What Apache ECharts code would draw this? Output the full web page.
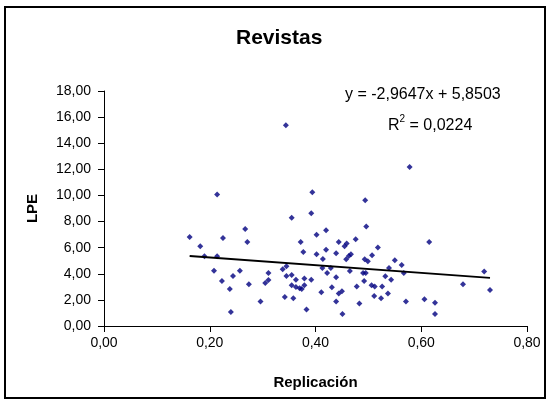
<!DOCTYPE html>
<html>
<head>
<meta charset="utf-8">
<script src="https://cdn.jsdelivr.net/npm/echarts@6/dist/echarts.min.js"></script>
<style>
  html, body { margin: 0; padding: 0; background: #fff; }
  #chart { width: 549px; height: 403px; }
</style>
</head>
<body>
<div id="chart"></div>
<script>
// valores (Replicación, LPE)
const replicacion = [
  0.214, 0.267, 0.162, 0.225, 0.271, 0.182, 0.190, 0.214, 0.208, 0.257, 0.244, 0.223, 0.274, 0.238, 0.296, 0.240,
  0.394, 0.392, 0.355, 0.420, 0.402, 0.372, 0.444, 0.420, 0.377, 0.402, 0.439, 0.414, 0.345, 0.338, 0.413, 0.429,
  0.311, 0.422, 0.345, 0.355, 0.439, 0.311, 0.363, 0.379, 0.392, 0.305, 0.355, 0.363, 0.370, 0.379, 0.374, 0.431,
  0.411, 0.444, 0.342, 0.358, 0.439, 0.383,
  0.494, 0.496, 0.476, 0.459, 0.455, 0.518, 0.467, 0.463, 0.458, 0.507, 0.493, 0.499, 0.550, 0.563, 0.539, 0.465,
  0.490, 0.495, 0.567, 0.532, 0.543, 0.492, 0.506, 0.512, 0.526, 0.478, 0.450, 0.537, 0.511, 0.524, 0.483, 0.571,
  0.451,
  0.615, 0.719, 0.679, 0.730, 0.606, 0.626, 0.626,
  0.344, 0.578
];
const lpe = [
  10.07, 7.43, 6.82, 6.74, 6.44, 6.11, 5.34, 5.34, 4.24, 4.24, 3.83, 3.45, 3.20, 2.84, 1.87, 1.07,
  10.25, 8.64, 8.30, 7.33, 6.98, 6.44, 6.44, 5.85, 5.67, 5.49, 5.57, 5.13, 4.57, 4.34, 4.44, 4.44,
  4.06, 4.06, 3.83, 3.91, 3.73, 3.52, 3.55, 3.63, 3.55, 3.30, 3.12, 2.99, 2.89, 3.12, 2.84, 2.97,
  2.58, 2.48, 2.22, 2.12, 1.87, 1.26,
  9.63, 7.62, 6.64, 6.31, 6.11, 6.01, 5.49, 5.36, 5.11, 5.42, 5.11, 4.96, 5.03, 4.67, 4.44, 4.21,
  4.06, 4.06, 4.06, 3.81, 3.55, 3.45, 3.12, 3.02, 3.02, 3.02, 2.66, 2.48, 2.30, 2.12, 1.72, 1.87,
  0.92,
  6.44, 4.17, 3.20, 2.76, 2.05, 1.79, 0.92,
  15.38, 12.18
];
// línea de tendencia lineal (coeficientes mostrados en el gráfico)
const trendX = [0.162, 0.730];
const slope = -2.9647;
const intercept = 5.8503;

const points = replicacion.map((x, i) => [x, lpe[i]]);
const trend = trendX.map(x => [x, slope * x + intercept]);
const fmt = v => v.toFixed(2).replace('.', ',');

const chart = echarts.init(document.getElementById('chart'));
chart.setOption({
  animation: false,
  backgroundColor: '#fff',
  title: {
    text: 'Revistas',
    left: 236,
    top: 28,
    padding: 0,
    textStyle: { fontFamily: 'Liberation Sans', fontSize: 21, fontWeight: 'bold', color: '#000' }
  },
  grid: { left: 104, right: 22, top: 91, bottom: 77 },
  xAxis: {
    type: 'value',
    min: 0, max: 0.8, interval: 0.2,
    name: 'Replicación',
    nameLocation: 'middle',
    nameGap: 49,
    nameTextStyle: { fontFamily: 'Liberation Sans', fontSize: 15, fontWeight: 'bold', color: '#000' },
    axisLine: { show: true, lineStyle: { color: '#000', width: 1 } },
    axisTick: { show: true, length: 6, lineStyle: { color: '#000' } },
    axisLabel: { formatter: fmt, margin: 10, fontFamily: 'Liberation Sans', fontSize: 14, color: '#000' },
    splitLine: { show: false }
  },
  yAxis: {
    type: 'value',
    min: 0, max: 18, interval: 2,
    name: 'LPE',
    nameLocation: 'middle',
    nameGap: 64,
    nameTextStyle: { fontFamily: 'Liberation Sans', fontSize: 15, fontWeight: 'bold', color: '#000' },
    axisLine: { show: true, lineStyle: { color: '#000', width: 1 } },
    axisTick: { show: true, length: 6, lineStyle: { color: '#000' } },
    axisLabel: { formatter: fmt, margin: 13, fontFamily: 'Liberation Sans', fontSize: 14, color: '#000' },
    splitLine: { show: false }
  },
  graphic: [
    {
      type: 'rect', silent: true,
      shape: { x: 5, y: 7, width: 540, height: 391 },
      style: { fill: 'none', stroke: '#000', lineWidth: 2 }
    },
    {
      type: 'text', left: 345, top: 87,
      style: { text: 'y = -2,9647x + 5,8503', font: '16px "Liberation Sans"', fill: '#000' }
    },
    {
      type: 'text', left: 388, top: 114,
      style: {
        text: '{a|R}{s|2}{a| = 0,0224}',
        rich: {
          a: { font: '16px "Liberation Sans"', fill: '#000', verticalAlign: 'bottom', lineHeight: 20 },
          s: { font: '10px "Liberation Sans"', fill: '#000', verticalAlign: 'top', lineHeight: 20 }
        }
      }
    }
  ],
  series: [
    {
      type: 'scatter',
      data: points,
      symbol: 'diamond',
      symbolSize: 6,
      itemStyle: { color: '#000080' },
      z: 3
    },
    {
      type: 'line',
      data: trend,
      symbol: 'none',
      lineStyle: { color: '#000', width: 2 },
      z: 4
    }
  ]
});
</script>
</body>
</html>
